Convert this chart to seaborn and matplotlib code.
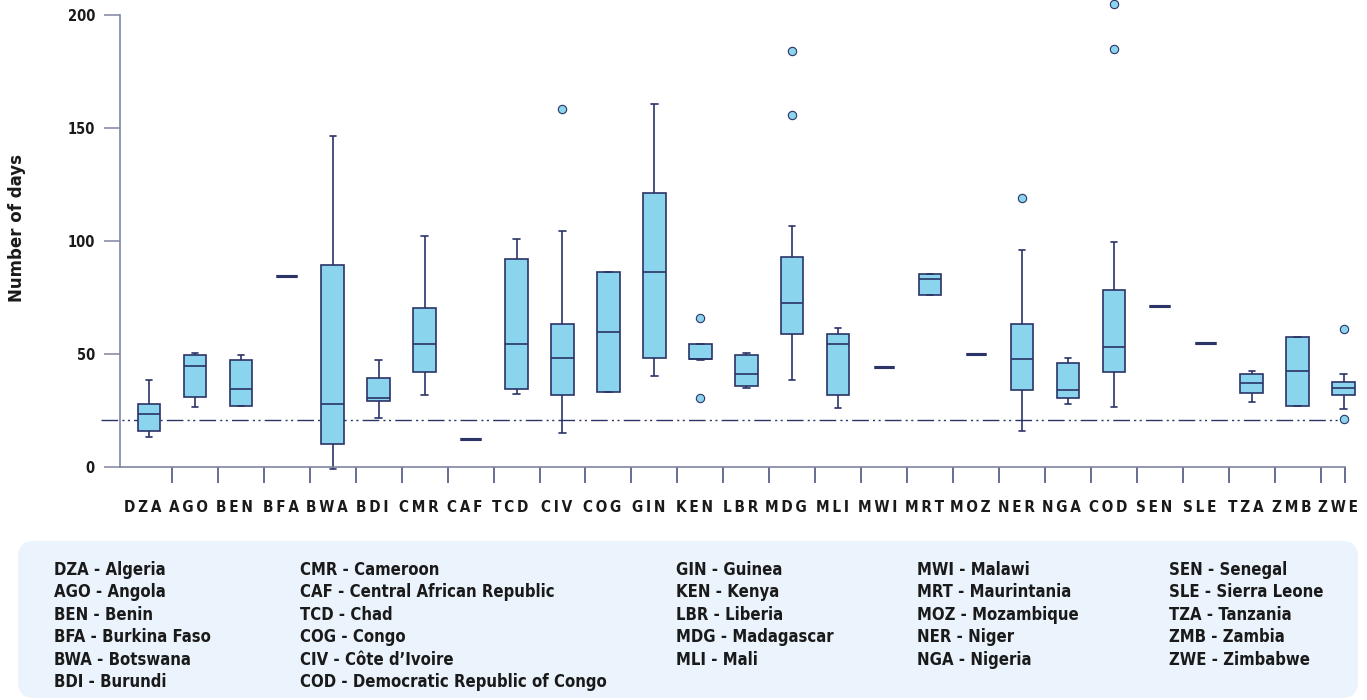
import matplotlib
matplotlib.use("Agg")
import matplotlib.pyplot as plt
from matplotlib.patches import FancyBboxPatch
from matplotlib.transforms import ScaledTranslation
import numpy as np
import pandas as pd
import seaborn as sns

# ---- data -------------------------------------------------------------
codes = ["DZA", "AGO", "BEN", "BFA", "BWA", "BDI", "CMR", "CAF", "TCD", "CIV",
         "COG", "GIN", "KEN", "LBR", "MDG", "MLI", "MWI", "MRT", "MOZ", "NER",
         "NGA", "COD", "SEN", "SLE", "TZA", "ZMB", "ZWE"]

country_names = ["Algeria", "Angola", "Benin", "Burkina Faso", "Botswana", "Burundi",
                 "Cameroon", "Central African Republic", "Chad", "Côte d’Ivoire",
                 "Congo", "Guinea", "Kenya", "Liberia", "Madagascar", "Mali",
                 "Malawi", "Maurintania", "Mozambique", "Niger", "Nigeria",
                 "Democratic Republic of Congo", "Senegal", "Sierra Leone",
                 "Tanzania", "Zambia", "Zimbabwe"]

# five-number summaries (days)
whisker_low = [13.2, 26.5, 27.1, 84.3, -1.0, 21.6, 31.9, 12.3, 32.1, 14.8,
               33.0, 40.1, 47.3, 34.9, 38.5, 25.9, 44.2, 76.0, 50.0, 16.0,
               27.7, 26.4, 71.3, 54.9, 28.8, 26.9, 25.5]
quartile1 = [16.0, 30.8, 27.1, 84.3, 9.9, 29.0, 42.0, 12.3, 34.3, 31.9,
             33.0, 48.1, 47.9, 35.9, 58.9, 31.7, 44.2, 76.0, 50.0, 34.2,
             30.3, 41.9, 71.3, 54.9, 32.6, 26.9, 31.7]
median = [23.2, 44.7, 34.5, 84.3, 27.7, 30.3, 54.6, 12.3, 54.3, 48.1,
          59.6, 86.4, 47.9, 41.1, 72.6, 54.6, 44.2, 83.3, 50.0, 47.6,
          34.2, 53.2, 71.3, 54.9, 37.1, 42.5, 34.8]
quartile3 = [27.7, 49.4, 47.5, 84.3, 89.6, 39.2, 70.3, 12.3, 92.0, 63.2,
             86.4, 121.1, 54.6, 49.3, 93.0, 58.9, 44.2, 85.6, 50.0, 63.2,
             45.9, 78.3, 71.3, 54.9, 41.3, 57.7, 37.6]
whisker_high = [38.5, 50.3, 49.3, 84.3, 146.4, 47.5, 102.3, 12.3, 100.7, 104.4,
                86.4, 160.8, 54.6, 50.6, 106.6, 61.5, 44.2, 85.6, 50.0, 96.1,
                48.1, 99.6, 71.3, 54.9, 42.6, 57.7, 41.3]

outlier_codes = ["CIV", "KEN", "KEN", "MDG", "MDG", "NER", "COD", "COD", "ZWE", "ZWE"]
outlier_days = [158.7, 66.1, 30.3, 184.0, 155.9, 119.1, 205.1, 185.3, 61.1, 21.2]

reference_days = 20.5

# key columns (alphabetical by country name)
key_columns = [
    ["DZA", "AGO", "BEN", "BFA", "BWA", "BDI"],
    ["CMR", "CAF", "TCD", "COG", "CIV", "COD"],
    ["GIN", "KEN", "LBR", "MDG", "MLI"],
    ["MWI", "MRT", "MOZ", "NER", "NGA"],
    ["SEN", "SLE", "TZA", "ZMB", "ZWE"],
]

# ---- styling ----------------------------------------------------------
BOX_FILL = "#8AD4EE"
NAVY = "#2B3467"
SPINE = "#7E85A3"
TEXT = "#1A1A1A"
KEY_BG = "#EBF4FC"

sns.set_theme(style="white")
plt.rcParams["font.family"] = ["DejaVu Sans"]
plt.rcParams["font.stretch"] = "condensed"
plt.rcParams["font.weight"] = "bold"

W, H = 1367, 700
fig = plt.figure(figsize=(W / 100, H / 100), dpi=100)
ax = fig.add_axes([120 / W, 1 - 484.8 / H, 1246.6 / W, 484.8 / H])

# long table: each country's summary points, so quartiles land exactly
rows = []
for c, lo, a, m, b, hi in zip(codes, whisker_low, quartile1, median, quartile3, whisker_high):
    for v in (lo, a, m, b, hi):
        rows.append({"code": c, "days": v, "single": lo == hi})
df = pd.DataFrame(rows)

# countries with a spread of values
sns.boxplot(data=df[~df["single"]], x="code", y="days", order=codes,
            whis=(0, 100), width=0.49, color=BOX_FILL, saturation=1,
            linecolor=NAVY, linewidth=1.2, showfliers=False, capwidths=0.14,
            ax=ax)
# countries with a single value collapse to one heavier bar
sns.boxplot(data=df[df["single"]], x="code", y="days", order=codes,
            whis=(0, 100), width=0.45, color=NAVY, saturation=1,
            linecolor=NAVY, linewidth=2.2, showfliers=False, showcaps=False,
            ax=ax)

out_df = pd.DataFrame({"code": outlier_codes, "days": outlier_days})
sns.stripplot(data=out_df, x="code", y="days", order=codes, jitter=False,
              color=BOX_FILL, edgecolor=NAVY, linewidth=0.8, size=6.0,
              ax=ax, zorder=4)
for coll in ax.collections:
    coll.set_clip_on(False)

# reference line
ax.axhline(reference_days, xmin=-0.0152, xmax=0.9827, color=NAVY, lw=1.0,
           linestyle=(0, (12, 3, 1.5, 2.5, 1.5, 3)), clip_on=False, zorder=1)

# axes limits and spines
ax.set_xlim(-0.63, 26.5)
ax.set_ylim(-8, 206.8)
for side in ("top", "right"):
    ax.spines[side].set_visible(False)
ax.spines["left"].set_bounds(0, 200)
ax.spines["bottom"].set_position(("data", 0))
ax.spines["bottom"].set_bounds(-0.63, len(codes) - 1 + 0.03)
for side in ("left", "bottom"):
    ax.spines[side].set_color(SPINE)
    ax.spines[side].set_linewidth(1.2)

ax.set_yticks([0, 50, 100, 150, 200])
ax.tick_params(axis="y", which="major", left=True, direction="out", length=11.5,
               width=1.1, color=SPINE, pad=6.5, labelsize=10.5, labelcolor=TEXT)
for lab in ax.get_yticklabels():
    lab.set_fontweight("bold")

spaced = ["\u2009".join(c) for c in codes]
ax.set_xticks(range(len(codes)))
ax.set_xticklabels(spaced)
separators = [i + 0.5 for i in range(len(codes) - 1)] + [len(codes) - 1 + 0.03]
ax.set_xticks(separators, minor=True)
ax.tick_params(axis="x", which="major", bottom=True, length=0, pad=24,
               labelsize=11, labelcolor=TEXT)
ax.tick_params(axis="x", which="minor", bottom=True, direction="out",
               length=11.2, width=1.1, color="#3F4775")
nudge = ScaledTranslation(-6 / 100, 0, fig.dpi_scale_trans)
for lab in ax.get_xticklabels():
    lab.set_fontweight("bold")
    lab.set_transform(lab.get_transform() + nudge)

ax.set_xlabel("")
ax.set_ylabel("Number of days", family=["DejaVu Sans"], fontstretch="normal",
              fontweight="bold", fontsize=12, color=TEXT)
ax.yaxis.label.set_verticalalignment("center")
ax.yaxis.set_label_coords((17 - 120) / 1246.6, (484.8 - 228) / 484.8)

# ---- country key ------------------------------------------------------
key_bg = FancyBboxPatch((18, 2), 1340, 157,
                        boxstyle="round,pad=0,rounding_size=16",
                        transform=None, facecolor=KEY_BG, edgecolor="none",
                        zorder=0)
fig.patches.append(key_bg)

name_of = dict(zip(codes, country_names))
col_x = [54, 300, 676, 917, 1169]
for x, col in zip(col_x, key_columns):
    for r, c in enumerate(col):
        y = 575 + r * 22.4
        fig.text(x / W, 1 - y / H, f"{c} - {name_of[c]}", ha="left",
                 va="baseline", fontsize=12, fontweight="bold", color=TEXT)

fig.savefig("out.png", dpi=100)
